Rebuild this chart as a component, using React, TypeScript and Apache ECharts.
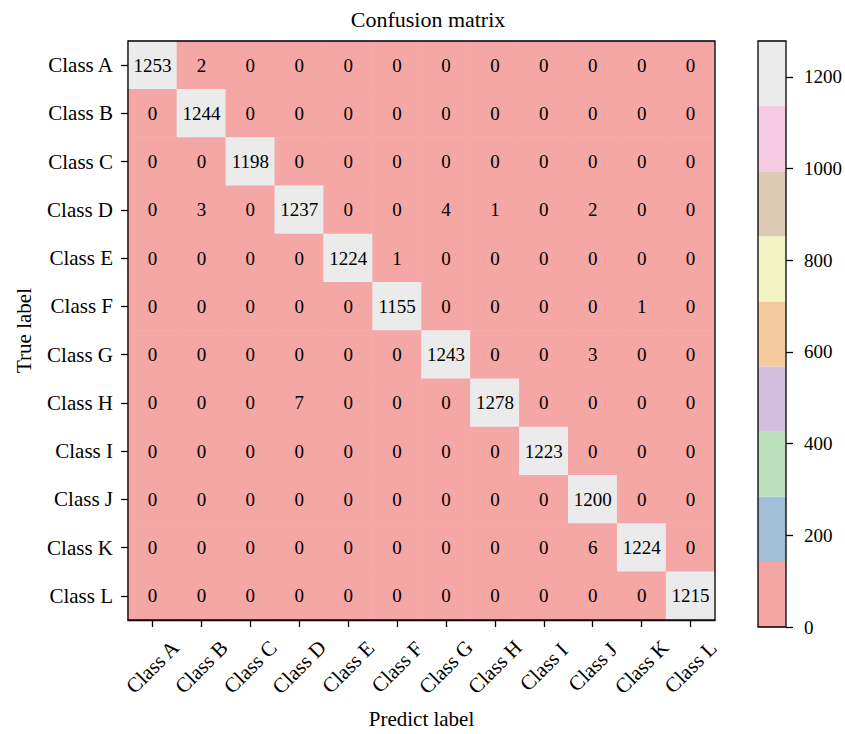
import React, { useEffect, useRef } from "react";
import * as echarts from "echarts";

const classes = ["Class A", "Class B", "Class C", "Class D", "Class E", "Class F", "Class G", "Class H", "Class I", "Class J", "Class K", "Class L"];

const matrix: number[][] = [
  [1253, 2, 0, 0, 0, 0, 0, 0, 0, 0, 0, 0],
  [0, 1244, 0, 0, 0, 0, 0, 0, 0, 0, 0, 0],
  [0, 0, 1198, 0, 0, 0, 0, 0, 0, 0, 0, 0],
  [0, 3, 0, 1237, 0, 0, 4, 1, 0, 2, 0, 0],
  [0, 0, 0, 0, 1224, 1, 0, 0, 0, 0, 0, 0],
  [0, 0, 0, 0, 0, 1155, 0, 0, 0, 0, 1, 0],
  [0, 0, 0, 0, 0, 0, 1243, 0, 0, 3, 0, 0],
  [0, 0, 0, 7, 0, 0, 0, 1278, 0, 0, 0, 0],
  [0, 0, 0, 0, 0, 0, 0, 0, 1223, 0, 0, 0],
  [0, 0, 0, 0, 0, 0, 0, 0, 0, 1200, 0, 0],
  [0, 0, 0, 0, 0, 0, 0, 0, 0, 6, 1224, 0],
  [0, 0, 0, 0, 0, 0, 0, 0, 0, 0, 0, 1215],
];

const cmapColors = ["#f4a7a4", "#a2bfd7", "#bddfbc", "#d0bfde", "#f5cb9d", "#f2f4c4", "#dccab4", "#f4cbe2", "#ebebeb"];
const vmin = 0;
const vmax = 1278;
const cbTicks = [0, 200, 400, 600, 800, 1000, 1200];

const FONT = "Liberation Serif";
const FS = 21;
const FS_NUM = 19;

export default function App() {
  const ref = useRef<HTMLDivElement>(null);
  useEffect(() => {
    document.body.style.margin = "0";
    const chart = echarts.init(ref.current!, null, { renderer: "svg" });
    const step = (vmax - vmin) / cmapColors.length;
    const pieces = cmapColors.map((c, i) => ({
      gte: vmin + i * step,
      lt: i === cmapColors.length - 1 ? vmax + 1 : vmin + (i + 1) * step,
      color: c,
    }));
    const heatData: any[] = [];
    matrix.forEach((row, r) => row.forEach((v, c) => heatData.push([c, r, v])));

    const cbSeries = cmapColors.map((c) => ({
      type: "bar",
      xAxisIndex: 1,
      yAxisIndex: 1,
      stack: "cb",
      barWidth: "100%",
      data: [step],
      itemStyle: { color: c },
      silent: true,
    }));

    const textStyle = { fontFamily: FONT, fontSize: FS, color: "#000" };
    const numStyle = { fontFamily: FONT, fontSize: FS_NUM, color: "#000" };

    chart.setOption({
      animation: false,
      title: {
        text: "Confusion matrix",
        left: 423,
        textAlign: "center",
        top: 3,
        textStyle: { fontFamily: FONT, fontSize: 22, color: "#000", fontWeight: "normal" },
      },
      grid: [
        { left: 128, top: 41, width: 587, height: 586, show: true, borderColor: "#000", borderWidth: 1.3, backgroundColor: "transparent", z: 5 },
        { left: 758, top: 41, width: 29, height: 586, show: true, borderColor: "#000", borderWidth: 1.3, backgroundColor: "transparent", z: 5 },
      ],
      xAxis: [
        {
          type: "category",
          data: classes,
          gridIndex: 0,
          name: "Predict label",
          nameLocation: "middle",
          nameGap: 88,
          nameTextStyle: textStyle,
          axisLine: { show: true, lineStyle: { color: "#000", width: 1.3 } },
          axisTick: { show: true, alignWithLabel: true, length: 7, lineStyle: { color: "#000", width: 1.3 } },
          axisLabel: { ...textStyle, rotate: 45, margin: 47, align: "center", verticalAlign: "middle", interval: 0 },
          splitLine: { show: false },
        },
        {
          type: "category",
          data: [""],
          gridIndex: 1,
          show: false,
        },
      ],
      yAxis: [
        {
          type: "category",
          data: classes,
          inverse: true,
          gridIndex: 0,
          name: "True label",
          nameLocation: "middle",
          nameGap: 94,
          nameRotate: 90,
          nameTextStyle: textStyle,
          axisLine: { show: true, lineStyle: { color: "#000", width: 1.3 } },
          axisTick: { show: true, alignWithLabel: true, length: 7, lineStyle: { color: "#000", width: 1.3 } },
          axisLabel: { ...textStyle, margin: 15, interval: 0 },
          splitLine: { show: false },
        },
        {
          type: "value",
          gridIndex: 1,
          min: vmin,
          max: vmax,
          position: "right",
          axisLine: { show: false },
          axisTick: { show: true, length: 7, customValues: cbTicks, lineStyle: { color: "#000", width: 1.3 } },
          axisLabel: { ...numStyle, margin: 18, customValues: cbTicks, formatter: (v: number) => String(v) },
          splitLine: { show: false },
        },
      ],
      visualMap: {
        show: false,
        type: "piecewise",
        dimension: 2,
        seriesIndex: 0,
        pieces,
      },
      series: [
        {
          type: "heatmap",
          xAxisIndex: 0,
          yAxisIndex: 0,
          data: heatData,
          label: { show: true, ...numStyle },
          emphasis: { disabled: true },
          silent: true,
          z: 1,
        },
        ...cbSeries,
      ],
    });
    return () => chart.dispose();
  }, []);
  return <div ref={ref} style={{ width: 845, height: 734 }} />;
}
